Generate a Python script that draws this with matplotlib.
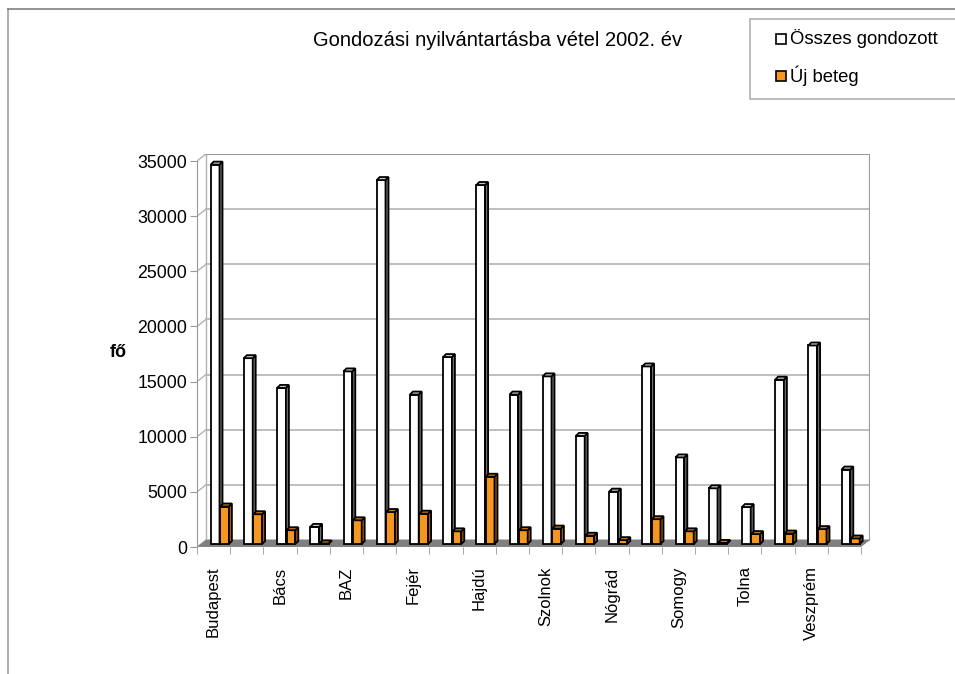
import matplotlib as mpl
import numpy as np
import matplotlib.pyplot as plt
from matplotlib.patches import Polygon, Rectangle
from matplotlib.lines import Line2D

params = {'font.family': ['Liberation Sans', 'DejaVu Sans'],
          'font.size': 12}
plt.rcParams.update(params)

megyek = ['Budapest', 'Baranya', 'Bács', 'Békés', 'BAZ', 'Csongrád', 'Fejér',
          'Győr', 'Hajdú', 'Heves', 'Szolnok', 'Komárom', 'Nógrád', 'Pest',
          'Somogy', 'Szabolcs', 'Tolna', 'Vas', 'Veszprém', 'Zala']
osszes = [34400, 16850, 14150, 1550, 15650, 33000, 13550, 16950, 32550, 13550,
          15200, 9800, 4750, 16100, 7850, 5050, 3350, 14900, 18000, 6750]
uj_beteg = [3400, 2700, 1250, 50, 2150, 2900, 2750, 1150, 6100, 1250,
            1400, 750, 350, 2250, 1150, 100, 900, 950, 1350, 500]

W, H = 955, 674
fig = plt.figure(figsize=(W / 100, H / 100), dpi=100)

# plot box in pixels: front axis x 197..861, y 547 (0) .. 161 (35000), depth 9x7 px
x_left, x_front_right, depth_x = 197, 861, 9
y_zero, y_top, depth_y = 547, 161, 7
n = len(megyek)
ux = (x_front_right - x_left) / n          # px per category
uy = (y_zero - y_top) / 35000               # px per unit
DX = depth_x / ux
DY = depth_y / uy
ymax = 35000

ax = fig.add_axes([x_left / W, (H - y_zero) / H,
                   (x_front_right - x_left + depth_x) / W,
                   (y_zero - y_top + depth_y) / H])
ax.set_xlim(0, n + DX)
ax.set_ylim(0, ymax + DY)

grid_c = '#b3b3b3'
# back wall and left wall grid
for v in range(0, ymax + 1, 5000):
    ax.plot([DX, n + DX], [v + DY, v + DY], color=grid_c, lw=1.2, zorder=1)
    ax.plot([0, DX], [v, v + DY], color=grid_c, lw=1.0, zorder=1)
ax.plot([DX, DX], [DY, ymax + DY], color=grid_c, lw=1.0, zorder=1)
ax.plot([n + DX, n + DX], [DY, ymax + DY], color='#999999', lw=1.5, zorder=1)
ax.plot([DX, n + DX], [ymax + DY, ymax + DY], color='#999999', lw=1.5, zorder=1)

# floor
ax.add_patch(Polygon([(0, 0), (n, 0), (n + DX, DY), (DX, DY)],
                     closed=True, facecolor='#808080', edgecolor='none', zorder=2))

# 3D bars
bdx = 3 / ux
bdy = 3 / uy
sx = 3.2 / ux
b0 = 3 / uy
bw = 8.8 / ux


def bar3d(x0, v, front, side, top):
    ax.bar(x0, v, width=bw, bottom=b0, align='edge', color=front,
           edgecolor='black', linewidth=1.3, zorder=4)
    ax.add_patch(Polygon([(x0 + bw, b0), (x0 + bw + bdx, b0 + bdy),
                          (x0 + bw + bdx, b0 + v + bdy), (x0 + bw, b0 + v)],
                         closed=True, facecolor=side, edgecolor='black',
                         linewidth=1.3, zorder=4))
    ax.add_patch(Polygon([(x0, b0 + v), (x0 + bw, b0 + v),
                          (x0 + bw + bdx, b0 + v + bdy), (x0 + bdx, b0 + v + bdy)],
                         closed=True, facecolor=top, edgecolor='black',
                         linewidth=1.3, zorder=4))


for i in range(n):
    c = i + 0.5 + sx
    bar3d(c - 6.1 / ux, osszes[i], 'white', '#6f6f6f', '#c8c8c8')
    bar3d(c + 3.3 / ux, uj_beteg[i], '#f5961e', '#a35c0d', '#c9781a')

# axes
for s in ['top', 'right', 'bottom']:
    ax.spines[s].set_visible(False)
ax.spines['left'].set_bounds(0, ymax)
ax.spines['left'].set_color('#999999')
ax.spines['left'].set_zorder(3)
ax.plot([0, n], [0, 0], color='#999999', lw=1.0, zorder=3)
ax.set_yticks(range(0, ymax + 1, 5000))
ax.tick_params(axis='y', length=5, color='#999999', pad=2, labelsize=12.8)

ax.set_xticks(np.arange(n + 1), minor=True)
ax.set_xticks(np.arange(0, n, 2) + 0.5)
ax.set_xticklabels(megyek[::2], rotation=90, va='top', ha='center')
ax.tick_params(axis='x', which='major', length=0, pad=14, labelsize=12)
ax.tick_params(axis='x', which='minor', length=5, color='#999999')

fig.text(118 / W, 1 - 352 / H, 'fő', fontsize=13, fontweight='bold',
         ha='center', va='center')

fig.text(498 / W, 1 - 40 / H, 'Gondozási nyilvántartásba vétel 2002. év',
         fontsize=14.5, ha='center', va='center')

# outer frame
fig.add_artist(Line2D([8 / W, 8 / W], [0, 1 - 9 / H], color='#b0b0b0', lw=1.5))
fig.add_artist(Line2D([8 / W, 1], [1 - 9 / H, 1 - 9 / H], color='#808080', lw=1.2))

# legend
fig.add_artist(Rectangle((750 / W, 1 - 99 / H), 220 / W, 80 / H,
                         transform=fig.transFigure, facecolor='white',
                         edgecolor='#b0b0b0', lw=1.2))
for yc, col, lab in [(39, 'white', 'Összes gondozott'), (76, '#f5961e', 'Új beteg')]:
    fig.add_artist(Rectangle((776 / W, 1 - (yc + 5) / H), 10 / W, 10 / H,
                             transform=fig.transFigure, facecolor=col,
                             edgecolor='black', lw=1.2))
    fig.text(790 / W, 1 - yc / H, lab, fontsize=13.3, ha='left', va='center')

fig.savefig('out.png', dpi=100)
